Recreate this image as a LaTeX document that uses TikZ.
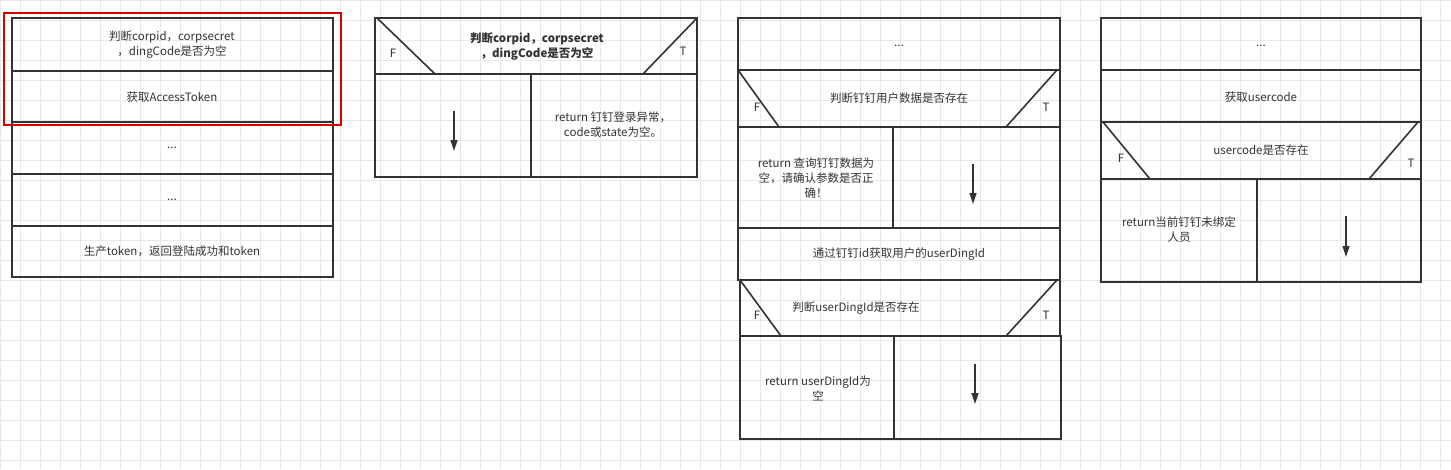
\documentclass[tikz,border=0pt]{standalone}
\usepackage{fontspec}
\setmainfont{Noto Sans CJK SC}
\usetikzlibrary{arrows.meta}
\begin{document}
\begin{tikzpicture}[x=1pt,y=-1pt,
  cell/.style={draw=black!80,line width=1.6pt},
  lbl/.style={font=\fontsize{11.5}{15}\selectfont,text=black!80,align=center},
  flow/.style={-{Triangle[length=11pt,width=7pt]},line width=1.3pt,black!80}]
\useasboundingbox (0,0) rectangle (1451,469);
\fill[white] (0,0) rectangle (1451,469);
\foreach \i in {0,20,...,1440} \draw[black!9,line width=0.6pt] (\i,0) -- (\i,469);
\foreach \j in {0,20,...,460} \draw[black!9,line width=0.6pt] (0,\j) -- (1451,\j);
% column 1
\foreach \a/\b in {18/71,71/122,122/174,174/226,226/277}
  \draw[cell] (12,\a) rectangle (333,\b);
\node[lbl] (c1a) at (172,45) {判断corpid，corpsecret\\，dingCode是否为空};
\node[lbl] (c1b) at (172,97) {获取AccessToken};
\node[lbl] (c1c) at (172,148) {...};
\node[lbl] (c1d) at (172,200) {...};
\node[lbl] (c1e) at (172,251) {生产token，返回登陆成功和token};
\draw[red!85!black,line width=1.3pt] (4,13) rectangle (341,125);
% column 2
\draw[cell] (375,18) rectangle (697,74);
\draw[cell] (377,18) -- (435,74) (697,18) -- (643,74);
\draw[cell] (375,74) rectangle (531,177);
\draw[cell] (531,74) rectangle (697,177);
\node[lbl,font=\fontsize{11.5}{15}\selectfont\bfseries] (c2h) at (537,46) {判断corpid，corpsecret\\，dingCode是否为空};
\node[lbl] (c2f) at (393,53) {F};
\node[lbl] (c2t) at (683,51) {T};
\node[lbl] (c2r) at (613,125) {return 钉钉登录异常，\\code或state为空。};
\coordinate (c2s) at (454,111); \coordinate (c2e) at (454,151);
\draw[flow] (c2s) -- (c2e);
% column 3
\draw[cell] (738,18) rectangle (1060,70);
\draw[cell] (738,70) rectangle (1060,127);
\draw[cell] (738,70) -- (779,127) (1057,70) -- (1006,127);
\draw[cell] (738,127) rectangle (893,228);
\draw[cell] (893,127) rectangle (1060,228);
\draw[cell] (738,228) rectangle (1060,280);
\draw[cell] (740,280) rectangle (1060,336);
\draw[cell] (740,280) -- (781,336) (1057,280) -- (1006,336);
\draw[cell] (740,336) rectangle (894,439);
\draw[cell] (894,336) rectangle (1061,439);
\node[lbl] (c3a) at (899,46) {...};
\node[lbl] (c3b) at (899,98) {判断钉钉用户数据是否存在};
\node[lbl] (c3bf) at (757,107) {F};
\node[lbl] (c3bt) at (1046,107) {T};
\node[lbl] (c3l) at (816,178) {return 查询钉钉数据为\\空，请确认参数是否正\\确！};
\node[lbl] (c3c) at (899,254) {通过钉钉id获取用户的userDingId};
\node[lbl] (c3d) at (856,308) {判断userDingId是否存在};
\node[lbl] (c3df) at (757,315) {F};
\node[lbl] (c3dt) at (1046,315) {T};
\node[lbl] (c3m) at (818,388) {return userDingId为\\空};
\coordinate (c3s1) at (973,164); \coordinate (c3e1) at (973,204);
\draw[flow] (c3s1) -- (c3e1);
\coordinate (c3s2) at (975,364); \coordinate (c3e2) at (975,404);
\draw[flow] (c3s2) -- (c3e2);
% column 4
\draw[cell] (1101,18) rectangle (1421,70);
\draw[cell] (1101,70) rectangle (1421,122);
\draw[cell] (1101,122) rectangle (1421,179);
\draw[cell] (1103,122) -- (1150,179) (1418,122) -- (1369,179);
\draw[cell] (1101,179) rectangle (1257,282);
\draw[cell] (1257,179) rectangle (1421,282);
\node[lbl] (c4a) at (1261,46) {...};
\node[lbl] (c4b) at (1261,97) {获取usercode};
\node[lbl] (c4c) at (1261,150) {usercode是否存在};
\node[lbl] (c4cf) at (1121,158) {F};
\node[lbl] (c4ct) at (1411,163) {T};
\node[lbl] (c4l) at (1179,230) {return当前钉钉未绑定\\人员};
\coordinate (c4s) at (1346,216); \coordinate (c4e) at (1346,257);
\draw[flow] (c4s) -- (c4e);
\end{tikzpicture}
\end{document}
